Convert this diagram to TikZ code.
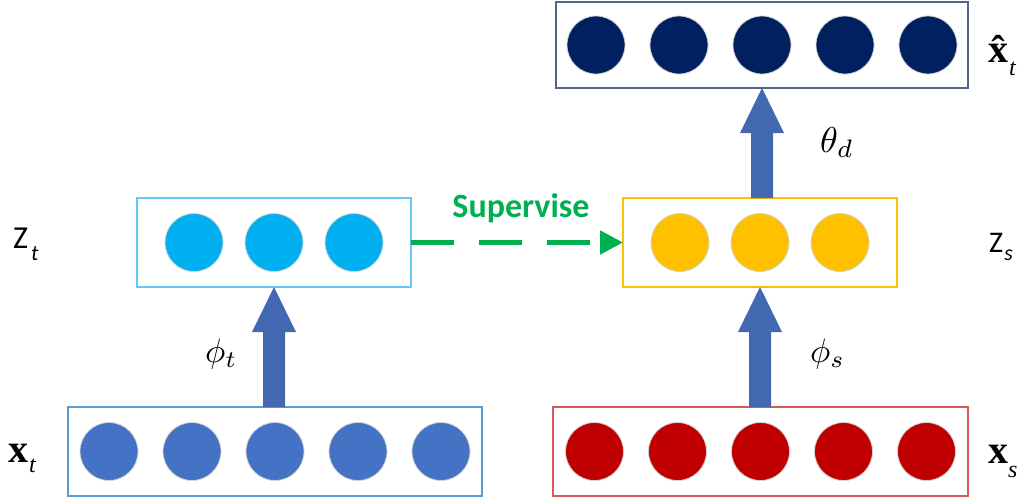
\documentclass[tikz,border=0pt]{standalone}
\usepackage{graphicx}
\usepackage{fontspec}
\setmainfont{Liberation Serif}
\newfontfamily\cali{Carlito}
\usetikzlibrary{arrows.meta,calc}
\definecolor{navy}{HTML}{002060}
\definecolor{navyedge}{RGB}{84,100,140}
\definecolor{cyanfill}{HTML}{00B0F0}
\definecolor{cyanedge}{RGB}{100,200,245}
\definecolor{gold}{HTML}{FFC000}
\definecolor{blfill}{HTML}{4472C4}
\definecolor{bledge}{RGB}{91,155,213}
\definecolor{redfill}{HTML}{C00000}
\definecolor{rededge}{RGB}{215,90,90}
\definecolor{arrowblue}{RGB}{66,104,178}
\definecolor{supgreen}{HTML}{00B050}
\newcommand{\blockarr}[2]{%
  \fill[arrowblue] ($(#2 |- #1)+(-11,0)$) -- ($(#2)+(-11,45)$) -- ($(#2)+(-22,45)$) -- (#2)
    -- ($(#2)+(22,45)$) -- ($(#2)+(11,45)$) -- ($(#2 |- #1)+(11,0)$) -- cycle;}
\begin{document}
\begin{tikzpicture}[x=1pt,y=-1pt,
  layerbox/.style 2 args={draw, line width=2pt, minimum width=#1, minimum height=#2, inner sep=0pt, outer sep=0pt},
  unit/.style={circle, fill=#1, draw=gray!35, line width=0.8pt, minimum size=58pt, inner sep=0pt},
  lab/.style={anchor=base west, inner sep=0pt}
]
\useasboundingbox (0,0) rectangle (1032,501);
% boxes
\node[layerbox={412pt}{86pt}, draw=navyedge] (top) at (762,45) {};
\node[layerbox={274pt}{89pt}, draw=cyanedge] (ml) at (274,242.5) {};
\node[layerbox={274pt}{89pt}, draw=gold] (mr) at (760,242.5) {};
\node[layerbox={414pt}{89pt}, draw=bledge] (bl) at (275,451.5) {};
\node[layerbox={415pt}{89pt}, draw=rededge] (br) at (760.5,451.5) {};
% units
\foreach \i in {-2,...,2} {
  \node[unit=navy] (t\i) at (762+83*\i,45) {};
  \node[unit=blfill] (b\i) at (275+83*\i,451.5) {};
  \node[unit=redfill] (r\i) at (760.5+83*\i,451.5) {};
}
\foreach \i in {-1,0,1} {
  \node[unit=cyanfill] (ml\i) at (274+80*\i,242.5) {};
  \node[unit=gold] (mr\i) at (760+80*\i,242.5) {};
}
% block arrows
\blockarr{bl.north}{ml.south}
\blockarr{br.north}{mr.south}
\blockarr{mr.north}{top.south}
% supervise
\draw[supgreen, line width=5pt, dash pattern=on 43pt off 25pt, -{Triangle[width=23pt,length=23pt]}] (ml.east) -- (mr.west);
\node[anchor=base, inner sep=0pt, text=supgreen] (sup) at (521,217) {\fontsize{34}{34}\cali\bfseries Supervise};
% labels
\node[lab] (zt) at (13,248) {\fontsize{32}{32}\cali Z\hspace{3pt}\raisebox{-12pt}{\fontsize{22}{22}\selectfont\itshape t}};
\node[lab] (zs) at (989,252) {\fontsize{30}{30}\cali Z\hspace{1pt}\raisebox{-8pt}{\fontsize{22}{22}\selectfont\itshape s}};
\node[lab] (xt) at (8,462) {\fontsize{40}{40}\selectfont\bfseries x\hspace{1pt}\raisebox{-10pt}{\fontsize{24}{24}\selectfont\mdseries\itshape t}};
\node[lab] (xs) at (988,463) {\fontsize{40}{40}\selectfont\bfseries x\raisebox{-14pt}{\fontsize{24}{24}\selectfont\mdseries\itshape s}};
\node[lab] (xh) at (988,62) {\fontsize{40}{40}\selectfont\bfseries \^{x}\hspace{1pt}\raisebox{-13pt}{\fontsize{24}{24}\selectfont\mdseries\itshape t}};
\node[lab] (pt) at (205,362) {\scalebox{3.4}{$\phi_t$}};
\node[lab] (ps) at (810,362) {\scalebox{3.4}{$\phi_s$}};
\node[lab] (td) at (820,152) {\scalebox{3.6}{$\theta_d$}};
\end{tikzpicture}
\end{document}
